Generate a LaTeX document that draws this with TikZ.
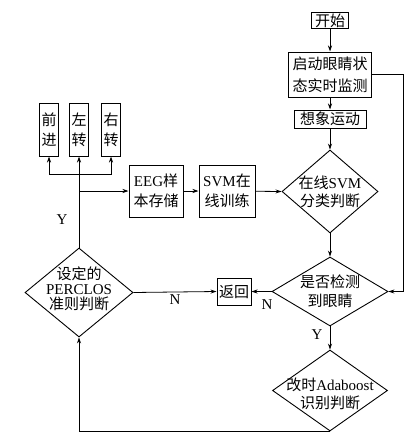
\documentclass[tikz,border=0pt]{standalone}
\usepackage{fontspec}
\setmainfont{Liberation Serif}
\newfontfamily\cjk{Noto Sans CJK SC}
\newcommand{\zh}[1]{{\cjk #1}}
\usetikzlibrary{shapes.geometric}
\usetikzlibrary{arrows.meta, calc}

\tikzset{
  blk/.style={draw, line width=1pt, inner sep=0pt, align=center,
    font=\fontsize{15}{20}\selectfont},
  vblk/.style={blk, minimum width=19, minimum height=53},
  chr/.style={inner sep=0pt, font=\fontsize{15}{15}\selectfont},
  dia/.style={draw, diamond, line width=0.9pt, inner sep=0pt},
  dtxt/.style={inner sep=0pt, align=center},
  conn/.style={line width=0.8pt},
  lbl/.style={inner sep=0pt, font=\fontsize{15}{18}\selectfont},
}

\begin{document}
\begin{tikzpicture}[x=1pt,y=-1pt,>={Stealth[length=6pt,width=4pt]}]
\useasboundingbox (0,0) rectangle (420,439);

% --- Colonna di destra
\node[blk, minimum width=37, minimum height=16] (start) at (330,20.5) {\zh{开始}};
\node[blk, minimum width=83, minimum height=45, font=\fontsize{15}{22}\selectfont]
  (monitor) at (330,74.5) {\zh{启动眼睛状}\\\zh{态实时监测}};
\node[blk, minimum width=72, minimum height=18] (imagine) at (330,119) {\zh{想象运动}};

\node[dia, minimum width=96, minimum height=83] (svmjudge) at (330,191.5) {};
\node[dtxt, font=\fontsize{15}{18}\selectfont] (svmjudge-t) at (svmjudge)
  {\zh{在线}SVM\\\zh{分类判断}};

\node[dia, minimum width=116, minimum height=69] (check) at (330,291.5) {};
\node[dtxt, font=\fontsize{15}{19}\selectfont] (check-t) at (check)
  {\zh{是否检测}\\\zh{到眼睛}};

\node[dia, minimum width=115, minimum height=81] (ada) at (330,390.5) {};
\node[dtxt, font=\fontsize{15}{18}\selectfont, yshift=-3pt] (ada-t) at (ada)
  {\zh{改时}Adaboost\\\zh{识别判断}};

% --- Riquadri centrali
\node[blk, minimum width=34, minimum height=27] (back) at (234,291.5) {\zh{返回}};
\node[blk, minimum width=54, minimum height=52] (eeg) at (156,191) {EEG\zh{样}\\\zh{本存储}};
\node[blk, minimum width=56, minimum height=52] (svm) at (227,191) {SVM\zh{在}\\\zh{线训练}};

% --- Colonna di sinistra
\node[dia, minimum width=108, minimum height=89] (perclos) at (79,292.5) {};
\node[dtxt, font=\fontsize{15}{15}\selectfont, yshift=4pt] (perclos-t) at (perclos)
  {\zh{设定的}\\PERCLOS\\\zh{准则判断}};

% --- Comandi (testo verticale)
\node[vblk] (fwd) at (49,129.5) {};
\node[vblk] (lft) at (79,129.5) {};
\node[vblk] (rgt) at (111,129.5) {};
\node[chr] (fwd-a) at ($(fwd)+(0,-10)$) {\zh{前}};
\node[chr] (fwd-b) at ($(fwd)+(0,10)$)  {\zh{进}};
\node[chr] (lft-a) at ($(lft)+(0,-10)$) {\zh{左}};
\node[chr] (lft-b) at ($(lft)+(0,10)$)  {\zh{转}};
\node[chr] (rgt-a) at ($(rgt)+(0,-10)$) {\zh{右}};
\node[chr] (rgt-b) at ($(rgt)+(0,10)$)  {\zh{转}};

% --- Collegamenti
\draw[conn,->] (start) -- (monitor);
\draw[conn,->] (monitor) -- (imagine);
\draw[conn,->] (imagine) -- (svmjudge);
\draw[conn,->] (svmjudge) -- (check);
\draw[conn,->] (monitor.east) -- ++(31,0) |- (check.east);
\draw[conn,->] (check.west) -- (back.east);
\draw[conn,->] (perclos.east) -- (back.west);
\draw[conn,->] (check) -- (ada);
\draw[conn,->] (ada.south) -| (perclos.south);
\draw[conn,->] (perclos.north) -- (lft.south);

\coordinate (fork) at (79,174);
\coordinate (tap) at (79,191);
\draw[conn,->] (fork) -| (fwd.south);
\draw[conn,->] (fork) -| (rgt.south);
\draw[conn,->] (tap) -- (eeg.west);
\draw[conn,->] (eeg) -- (svm);
\draw[conn,->] (svm) -- (svmjudge.west);

% --- Etichette
\node[lbl] (yes1) at (62,220) {Y};
\node[lbl] (no1) at (175,300) {N};
\node[lbl] (no2) at (267,305) {N};
\node[lbl] (yes2) at (317,335) {Y};

\end{tikzpicture}
\end{document}
